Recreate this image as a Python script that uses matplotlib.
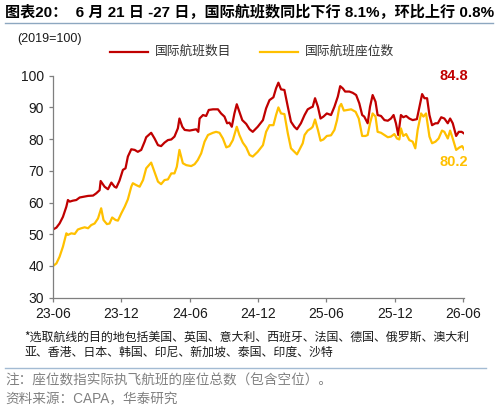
import numpy as np
import pandas as pd
import matplotlib.pyplot as plt
import matplotlib.dates as mdates
from matplotlib.lines import Line2D

START = pd.Timestamp("2023-06-24")

# weeks since 2023-06-24
red_wk = [0.0, 1.3, 2.5, 3.8, 5.1, 5.7, 6.4, 7.6, 8.9, 10.2, 11.5, 13.4, 15.3, 16.5,
          17.8, 18.2, 19.7, 21.0, 22.3, 23.5, 24.2, 25.4, 26.7, 27.7, 28.6, 29.9,
          31.2, 32.4, 33.7, 35.0, 35.6, 37.5, 38.8, 40.1, 41.3, 42.6, 43.9, 45.2,
          46.4, 47.7, 48.3, 49.4, 50.3, 52.2, 53.4, 54.7, 55.5, 56.0, 57.3, 58.5,
          59.5, 61.1, 63.0, 64.2, 65.5, 66.5, 67.4, 68.3, 69.3, 70.2, 71.2, 72.3,
          73.8, 75.1, 76.3, 78.2, 80.2, 81.4, 82.7, 84.2, 85.2, 86.1, 87.1, 88.4,
          89.7, 90.9, 92.2, 93.2, 94.7, 96.1, 97.3, 98.6, 99.2, 100.1, 101.2, 102.2,
          103.3, 104.6, 106.2, 107.5, 108.8, 109.7, 110.7, 111.6, 113.2, 114.5,
          115.8, 117.0, 118.1, 118.9, 120.2, 121.1, 122.1, 123.2, 124.0, 125.3,
          126.6, 127.9, 129.1, 130.1, 131.0, 131.9, 132.9, 133.8, 134.9, 136.1,
          137.4, 139.0, 140.0, 141.0, 141.9, 142.9, 143.8, 144.8, 146.1, 147.0,
          148.3, 149.5, 150.8, 151.7, 152.7, 154.0, 155.0, 156.1, 157.0]
red_val = [51.5, 52.1, 53.4, 55.5, 58.7, 60.8, 60.3, 60.6, 60.8, 61.6, 61.8, 62.1, 62.2, 62.9,
           63.9, 66.8, 65.0, 64.2, 66.3, 65.0, 64.7, 66.9, 70.3, 70.8, 74.5, 76.8,
           76.6, 76.0, 76.6, 79.2, 80.6, 82.0, 80.2, 78.1, 77.8, 78.9, 79.7, 79.9,
           80.8, 83.4, 86.5, 83.9, 82.9, 82.7, 82.9, 83.1, 82.3, 86.5, 87.6, 87.3,
           89.2, 89.4, 89.4, 88.1, 87.1, 85.0, 85.2, 83.9, 88.1, 91.0, 88.6, 86.0,
           84.8, 83.1, 82.3, 83.9, 86.0, 89.7, 92.3, 93.2, 96.0, 97.8, 95.7, 95.5,
           90.2, 85.5, 83.9, 83.1, 85.0, 87.6, 89.4, 90.0, 90.2, 92.9, 90.2, 86.5,
           87.1, 88.1, 87.6, 90.2, 93.4, 96.7, 96.0, 95.0, 95.0, 94.6,
           93.9, 91.3, 87.6, 87.1, 85.0, 90.2, 93.9, 91.8, 87.6, 87.3,
           86.0, 85.8, 86.5, 87.6, 85.0, 81.3, 87.6, 86.9, 87.3, 86.5,
           86.0, 86.3, 90.2, 94.2, 92.9, 92.9, 87.6, 84.4, 85.0, 85.0,
           86.9, 86.5, 85.0, 86.5, 85.0, 81.0, 82.3, 82.3, 81.8]

yel_wk = [0.0, 1.3, 2.5, 3.8, 5.1, 5.7, 7.0, 8.3, 9.5, 10.8, 12.1, 13.4, 14.6, 15.9,
          17.2, 18.4, 19.3, 20.6, 21.6, 22.6, 23.9, 24.8, 26.1, 27.4, 28.6, 29.9,
          30.5, 31.8, 33.1, 34.4, 35.6, 37.5, 38.5, 40.1, 41.3, 42.6, 43.9, 45.2,
          46.4, 47.3, 48.3, 49.6, 50.9, 52.8, 54.1, 55.3, 56.6, 57.9, 59.2, 61.1,
          62.3, 63.6, 64.9, 66.2, 67.4, 68.7, 70.2, 71.2, 72.5, 73.8, 75.1, 76.3,
          78.2, 80.2, 81.4, 82.7, 84.2, 85.2, 86.1, 87.1, 88.4, 89.7, 90.9, 92.2,
          93.2, 94.1, 95.4, 96.1, 97.3, 98.6, 99.2, 100.1, 101.2, 102.2, 103.3,
          104.6, 106.2, 107.5, 108.5, 109.4, 110.1, 111.1, 112.6, 113.9, 115.6,
          116.8, 118.1, 119.4, 120.2, 121.1, 122.1, 123.2, 124.0, 125.3, 126.6,
          127.9, 129.1, 130.4, 131.4, 132.3, 132.9, 133.8, 134.9, 136.1, 137.4,
          138.4, 139.3, 140.6, 141.5, 142.5, 143.8, 144.8, 146.1, 147.3, 148.6,
          149.5, 150.8, 151.7, 152.7, 154.0, 155.3, 156.3, 157.0]
yel_val = [40.0, 40.8, 42.9, 46.1, 50.3, 49.8, 50.3, 50.1, 51.5, 51.9, 52.2, 51.9, 52.9, 53.4,
           55.0, 58.2, 54.5, 53.2, 53.4, 55.3, 54.5, 54.3, 56.6, 58.7, 61.0, 65.0,
           66.1, 65.5, 65.0, 67.1, 70.8, 72.6, 70.3, 66.6, 65.8, 67.1, 67.3, 69.2,
           69.2, 71.3, 76.6, 72.4, 71.8, 71.5, 72.1, 73.4, 75.5, 79.2, 81.3, 82.0,
           82.3, 82.0, 80.2, 77.4, 77.8, 79.7, 83.9, 81.3, 78.9, 77.4, 75.0, 74.5,
           76.0, 78.1, 82.3, 84.4, 84.4, 87.6, 90.0, 88.1, 87.9, 81.8, 77.1, 76.0,
           75.2, 76.6, 78.7, 81.3, 82.7, 83.4, 83.9, 86.2, 82.9, 79.5, 79.9,
           81.0, 81.2, 82.9, 86.0, 90.2, 91.1, 89.0, 89.2, 89.4, 88.6,
           86.5, 81.0, 81.0, 81.3, 85.0, 88.1, 87.1, 82.3, 82.0, 81.3,
           80.6, 80.8, 81.6, 80.2, 79.9, 83.4, 81.0, 81.6, 79.7, 79.2,
           77.1, 82.9, 88.1, 87.1, 88.1, 80.8, 78.7, 79.2, 80.2, 82.7,
           82.3, 80.2, 82.7, 80.2, 76.6, 77.4, 77.8, 76.8]

series_names = ["国际航班数目", "国际航班座位数"]
end_labels = ["84.8", "80.2"]
tick_dates = ["2023-06-24", "2023-12-24", "2024-06-24", "2024-12-24",
              "2025-06-24", "2025-12-24", "2026-06-24"]

RED = "#C00000"
YEL = "#FFC000"
CJK = ["Noto Sans CJK SC", "DejaVu Sans"]
LAT = ["Liberation Sans", "Noto Sans CJK SC"]

W, H = 498, 412
fig = plt.figure(figsize=(W / 100, H / 100), dpi=100)


def px(x, y):
    return x / W, 1 - y / H


ax = fig.add_axes([53 / W, 1 - 297.7 / H, (464 - 53) / W, (297.7 - 75.7) / H])

red_x = START + pd.to_timedelta(np.array(red_wk) * 7, unit="D")
yel_x = START + pd.to_timedelta(np.array(yel_wk) * 7, unit="D")
ax.plot(red_x, red_val, color=RED, lw=1.6, solid_joinstyle="round")
ax.plot(yel_x, yel_val, color=YEL, lw=1.6, solid_joinstyle="round")

ax.set_ylim(30, 100)
ax.set_yticks(range(30, 101, 10))
ax.set_xlim(START, START + pd.Timedelta(days=1099))
ax.set_xticks(pd.to_datetime(tick_dates))
ax.xaxis.set_major_formatter(mdates.DateFormatter("%y-%m"))

for s in ["top", "right"]:
    ax.spines[s].set_visible(False)
for s in ["left", "bottom"]:
    ax.spines[s].set_color("#7f7f7f")
    ax.spines[s].set_linewidth(0.9)
ax.tick_params(direction="out", length=3, width=0.9, color="#7f7f7f",
               labelsize=10, labelcolor="#1a1a1a")
ax.tick_params(axis="x", pad=4)
for lab in ax.get_xticklabels() + ax.get_yticklabels():
    lab.set_family(LAT)

ax.text(1.01, 1.0, end_labels[0], transform=ax.transAxes, color=RED,
        fontsize=10.5, fontweight="bold", ha="right", va="center", family=LAT)
ax.text(1.01, 72.9 / 70 - 30 / 70, end_labels[1], transform=ax.transAxes, color=YEL,
        fontsize=10.5, fontweight="bold", ha="right", va="center", family=LAT)

# title and rule
fig.text(*px(5, 12), "图表20：  6 月 21 日 -27 日，国际航班数同比下行 8.1%，环比上行 0.8%",
         fontsize=10.9, fontweight="bold", ha="left", va="center", family=LAT)
fig.add_artist(Line2D([5 / W, 493 / W], [1 - 23 / H] * 2, color="#8da7c0", lw=1.0))

fig.text(*px(17, 39), "(2019=100)", fontsize=9, ha="left", va="center", family=LAT,
         color="#1a1a1a")

# legend
for (x0, color, name) in [(110, RED, series_names[0]), (260, YEL, series_names[1])]:
    fig.add_artist(Line2D([x0 / W, (x0 + 38) / W], [1 - 51.5 / H] * 2, color=color, lw=1.6))
    fig.text(*px(x0 + 45, 51.5), name, fontsize=9.2, ha="left", va="center",
             family=CJK, color="#333333")

fig.text(*px(24, 337), "*选取航线的目的地包括美国、英国、意大利、西班牙、法国、德国、俄罗斯、澳大利",
         fontsize=8.6, ha="left", va="center", family=CJK, color="#1a1a1a")
fig.text(*px(24, 352), "亚、香港、日本、韩国、印尼、新加坡、泰国、印度、沙特",
         fontsize=8.6, ha="left", va="center", family=CJK, color="#1a1a1a")

fig.add_artist(Line2D([5 / W, 486 / W], [1 - 367.7 / H] * 2, color="#a3bbd3", lw=1.0))
fig.text(*px(5, 380), "注：座位数指实际执飞航班的座位总数（包含空位）。",
         fontsize=9.8, ha="left", va="center", family=CJK, color="#808080")
fig.text(*px(5, 399), "资料来源：CAPA，华泰研究",
         fontsize=9.8, ha="left", va="center", family=LAT, color="#808080")

fig.savefig("out.png", dpi=100)
